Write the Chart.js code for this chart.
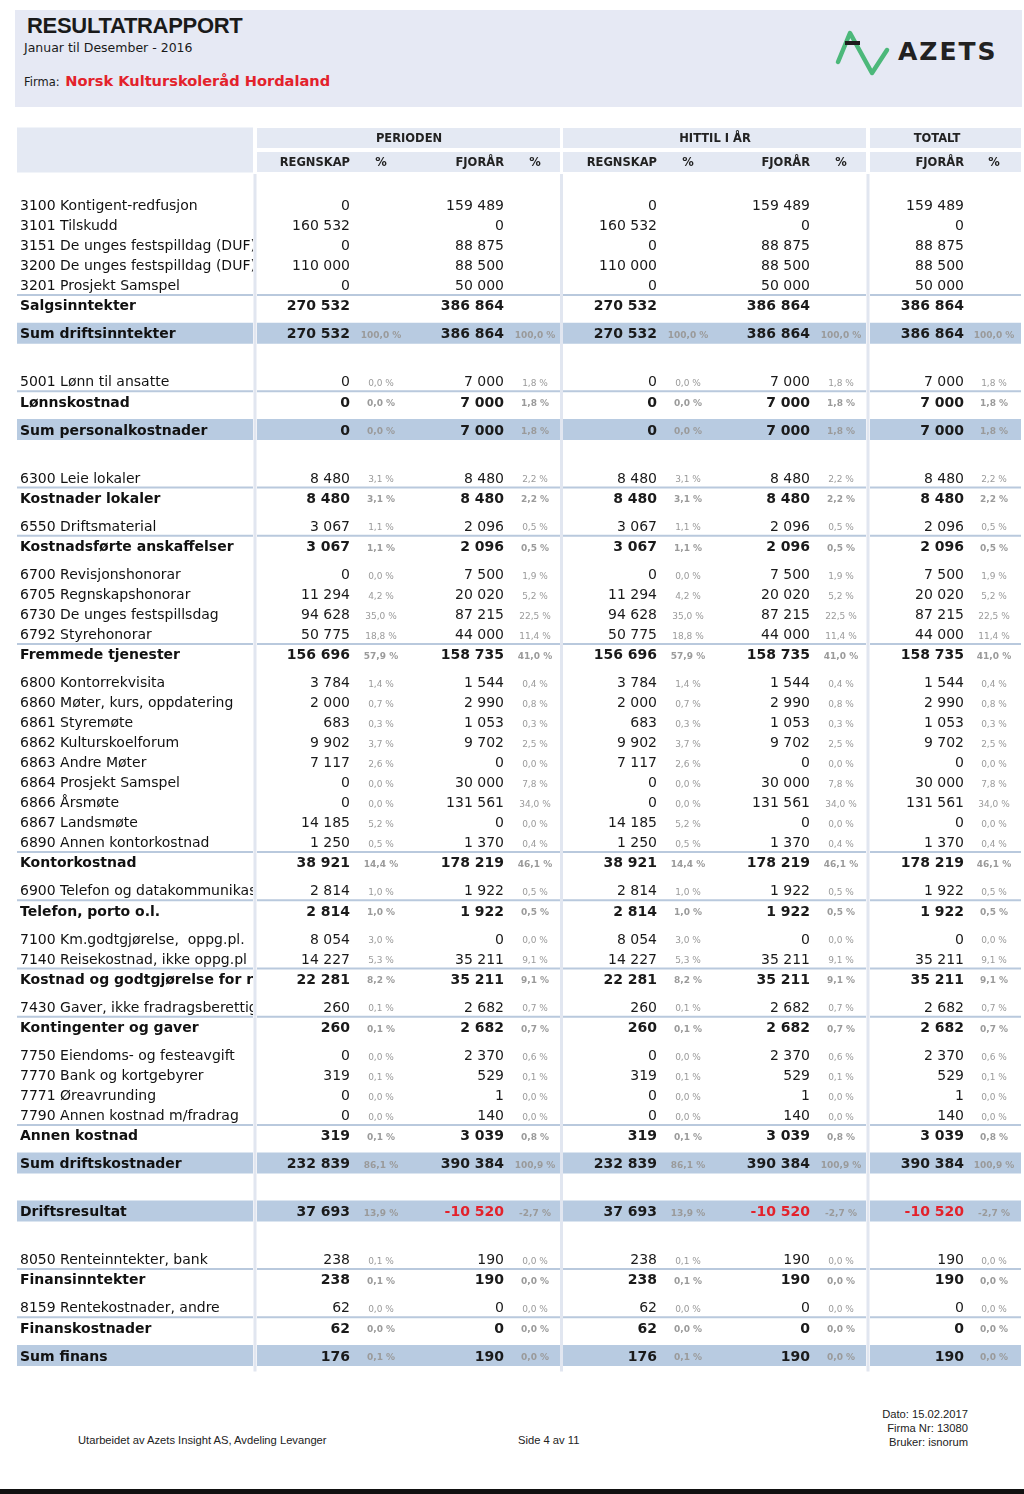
<!DOCTYPE html>
<html lang="no">
<head>
<meta charset="UTF-8">
<title>Resultatrapport</title>
<script src="https://cdn.jsdelivr.net/npm/chart.js"></script>
<style>
    body {
        margin: 0;
        width: 1024px;
        height: 1494px;
        position: relative;
        overflow: hidden;
        background: #fff;
        font-family: 'DejaVu Sans', Verdana, sans-serif;
        color: #1a1a1a;
    }
    .top {
        position: absolute;
        left: 15px; top: 10px;
        width: 1007px; height: 97px;
        background: #e6e9f4;
    }
    .top h1 {
        position: absolute;
        left: 12px; top: 4px;
        margin: 0;
        font: bold 22px 'Liberation Sans', Arial, sans-serif;
        letter-spacing: -0.3px;
        line-height: 24px;
    }
    .period {
        position: absolute;
        left: 9px; top: 31px;
        font-size: 12.5px; line-height: 14px;
    }
    .firma {
        position: absolute;
        left: 9px; top: 62px;
        font-size: 11.5px; line-height: 18px;
    }
    .firma b {
        color: #e3222b;
        font-size: 14.6px;
        margin-left: 2px;
    }
    .logo { position: absolute; left: 800px; top: 5px; }
    .logo span {
        position: absolute;
        left: 83px; top: 23px;
        font-weight: bold;
        font-size: 25px;
        line-height: 28px;
        letter-spacing: 2px;
        color: #222;
    }
    #tableWrap {
        position: absolute;
        left: 0; top: 120px;
        width: 1024px; height: 1265px;
    }
    .foot {
        position: absolute;
        font: 11.2px 'Liberation Sans', Arial, sans-serif;
        color: #222;
        line-height: 14px;
    }
    .bar { position: absolute; left: 0; top: 1489px; width: 1024px; height: 5px; background: #111; }
</style>
</head>
<body>

<div class="top">
    <h1>RESULTATRAPPORT</h1>
    <div class="period">Januar til Desember - 2016</div>
    <div class="firma">Firma: <b>Norsk Kulturskoleråd Hordaland</b></div>
    <div class="logo">
        <svg width="80" height="70" viewBox="0 0 80 70">
            <polyline points="23,47 35,18 57,58 72,35" fill="none" stroke="#4cb87a" stroke-width="4.5" stroke-linecap="round" stroke-linejoin="round"/>
            <rect x="30" y="26" width="15" height="4" fill="#1c1c1c"/>
        </svg>
        <span>AZETS</span>
    </div>
</div>

<div id="tableWrap"><canvas id="report" width="1024" height="1265"></canvas></div>

<div class="foot" style="left:78px; top:1433px;">Utarbeidet av Azets Insight AS, Avdeling Levanger</div>
<div class="foot" style="left:518px; top:1433px;">Side 4 av 11</div>
<div class="foot" style="right:56px; top:1407px; text-align:right;">Dato: 15.02.2017<br>Firma Nr: 13080<br>Bruker: isnorum</div>
<div class="bar"></div>

<script>
    // Rows of the report: d = account line, s = subtotal, sum = highlighted sum
    const rowLabels = [
        '3100 Kontigent-redfusjon', '3101 Tilskudd', '3151 De unges festspilldag (DUF)',
        '3200 De unges festspilldag (DUF)', '3201 Prosjekt Samspel', 'Salgsinntekter', 'Sum driftsinntekter',
        '5001 Lønn til ansatte', 'Lønnskostnad', 'Sum personalkostnader',
        '6300 Leie lokaler', 'Kostnader lokaler', '6550 Driftsmaterial', 'Kostnadsførte anskaffelser',
        '6700 Revisjonshonorar', '6705 Regnskapshonorar', '6730 De unges festspillsdag', '6792 Styrehonorar',
        'Fremmede tjenester',
        '6800 Kontorrekvisita', '6860 Møter, kurs, oppdatering', '6861 Styremøte', '6862 Kulturskoelforum',
        '6863 Andre Møter', '6864 Prosjekt Samspel', '6866 Årsmøte', '6867 Landsmøte',
        '6890 Annen kontorkostnad', 'Kontorkostnad',
        '6900 Telefon og datakommunikasjon', 'Telefon, porto o.l.',
        '7100 Km.godtgjørelse,  oppg.pl.', '7140 Reisekostnad, ikke oppg.pl', 'Kostnad og godtgjørelse for reiser',
        '7430 Gaver, ikke fradragsberettiget', 'Kontingenter og gaver',
        '7750 Eiendoms- og festeavgift', '7770 Bank og kortgebyrer', '7771 Øreavrunding',
        '7790 Annen kostnad m/fradrag', 'Annen kostnad',
        'Sum driftskostnader', 'Driftsresultat',
        '8050 Renteinntekter, bank', 'Finansinntekter', '8159 Rentekostnader, andre', 'Finanskostnader',
        'Sum finans'
    ];
    const rowKinds = [
        'd', 'd', 'd', 'd', 'd', 's', 'sum',
        'd', 's', 'sum',
        'd', 's', 'd', 's',
        'd', 'd', 'd', 'd', 's',
        'd', 'd', 'd', 'd', 'd', 'd', 'd', 'd', 'd', 's',
        'd', 's',
        'd', 'd', 's',
        'd', 's',
        'd', 'd', 'd', 'd', 's',
        'sum', 'sum',
        'd', 's', 'd', 's',
        'sum'
    ];

    // PERIODEN
    const perRegnskap = [0, 160532, 0, 110000, 0, 270532, 270532,
        0, 0, 0, 8480, 8480, 3067, 3067,
        0, 11294, 94628, 50775, 156696,
        3784, 2000, 683, 9902, 7117, 0, 0, 14185, 1250, 38921,
        2814, 2814, 8054, 14227, 22281, 260, 260,
        0, 319, 0, 0, 319, 232839, 37693,
        238, 238, 62, 62, 176];
    const perRegnskapPct = [null, null, null, null, null, null, 100.0,
        0.0, 0.0, 0.0, 3.1, 3.1, 1.1, 1.1,
        0.0, 4.2, 35.0, 18.8, 57.9,
        1.4, 0.7, 0.3, 3.7, 2.6, 0.0, 0.0, 5.2, 0.5, 14.4,
        1.0, 1.0, 3.0, 5.3, 8.2, 0.1, 0.1,
        0.0, 0.1, 0.0, 0.0, 0.1, 86.1, 13.9,
        0.1, 0.1, 0.0, 0.0, 0.1];
    const perFjoraar = [159489, 0, 88875, 88500, 50000, 386864, 386864,
        7000, 7000, 7000, 8480, 8480, 2096, 2096,
        7500, 20020, 87215, 44000, 158735,
        1544, 2990, 1053, 9702, 0, 30000, 131561, 0, 1370, 178219,
        1922, 1922, 0, 35211, 35211, 2682, 2682,
        2370, 529, 1, 140, 3039, 390384, -10520,
        190, 190, 0, 0, 190];
    const perFjoraarPct = [null, null, null, null, null, null, 100.0,
        1.8, 1.8, 1.8, 2.2, 2.2, 0.5, 0.5,
        1.9, 5.2, 22.5, 11.4, 41.0,
        0.4, 0.8, 0.3, 2.5, 0.0, 7.8, 34.0, 0.0, 0.4, 46.1,
        0.5, 0.5, 0.0, 9.1, 9.1, 0.7, 0.7,
        0.6, 0.1, 0.0, 0.0, 0.8, 100.9, -2.7,
        0.0, 0.0, 0.0, 0.0, 0.0];

    // HITTIL I ÅR
    const hitRegnskap = [0, 160532, 0, 110000, 0, 270532, 270532,
        0, 0, 0, 8480, 8480, 3067, 3067,
        0, 11294, 94628, 50775, 156696,
        3784, 2000, 683, 9902, 7117, 0, 0, 14185, 1250, 38921,
        2814, 2814, 8054, 14227, 22281, 260, 260,
        0, 319, 0, 0, 319, 232839, 37693,
        238, 238, 62, 62, 176];
    const hitRegnskapPct = [null, null, null, null, null, null, 100.0,
        0.0, 0.0, 0.0, 3.1, 3.1, 1.1, 1.1,
        0.0, 4.2, 35.0, 18.8, 57.9,
        1.4, 0.7, 0.3, 3.7, 2.6, 0.0, 0.0, 5.2, 0.5, 14.4,
        1.0, 1.0, 3.0, 5.3, 8.2, 0.1, 0.1,
        0.0, 0.1, 0.0, 0.0, 0.1, 86.1, 13.9,
        0.1, 0.1, 0.0, 0.0, 0.1];
    const hitFjoraar = [159489, 0, 88875, 88500, 50000, 386864, 386864,
        7000, 7000, 7000, 8480, 8480, 2096, 2096,
        7500, 20020, 87215, 44000, 158735,
        1544, 2990, 1053, 9702, 0, 30000, 131561, 0, 1370, 178219,
        1922, 1922, 0, 35211, 35211, 2682, 2682,
        2370, 529, 1, 140, 3039, 390384, -10520,
        190, 190, 0, 0, 190];
    const hitFjoraarPct = [null, null, null, null, null, null, 100.0,
        1.8, 1.8, 1.8, 2.2, 2.2, 0.5, 0.5,
        1.9, 5.2, 22.5, 11.4, 41.0,
        0.4, 0.8, 0.3, 2.5, 0.0, 7.8, 34.0, 0.0, 0.4, 46.1,
        0.5, 0.5, 0.0, 9.1, 9.1, 0.7, 0.7,
        0.6, 0.1, 0.0, 0.0, 0.8, 100.9, -2.7,
        0.0, 0.0, 0.0, 0.0, 0.0];

    // TOTALT
    const totFjoraar = [159489, 0, 88875, 88500, 50000, 386864, 386864,
        7000, 7000, 7000, 8480, 8480, 2096, 2096,
        7500, 20020, 87215, 44000, 158735,
        1544, 2990, 1053, 9702, 0, 30000, 131561, 0, 1370, 178219,
        1922, 1922, 0, 35211, 35211, 2682, 2682,
        2370, 529, 1, 140, 3039, 390384, -10520,
        190, 190, 0, 0, 190];
    const totFjoraarPct = [null, null, null, null, null, null, 100.0,
        1.8, 1.8, 1.8, 2.2, 2.2, 0.5, 0.5,
        1.9, 5.2, 22.5, 11.4, 41.0,
        0.4, 0.8, 0.3, 2.5, 0.0, 7.8, 34.0, 0.0, 0.4, 46.1,
        0.5, 0.5, 0.0, 9.1, 9.1, 0.7, 0.7,
        0.6, 0.1, 0.0, 0.0, 0.8, 100.9, -2.7,
        0.0, 0.0, 0.0, 0.0, 0.0];

    const groupHeaders = ['PERIODEN', 'HITTIL I ÅR', 'TOTALT'];
    const columnHeaders = ['REGNSKAP', 'FJORÅR', 'REGNSKAP', 'FJORÅR', 'FJORÅR'];

    // ---- layout (page pixels, x scale runs 0..1024, y scale follows the page) ----
    const bands = [[17, 253], [257, 560], [563, 866], [870, 1021]];
    const separators = [255, 561.5, 868];
    const groupCenters = [409, 715, 937];
    const headRow1 = 138, headRow2 = 162, firstRow = 205;
    const textNudge = 1.5; // canvas 'middle' sits a bit high for DejaVu
    const columns = [
        { values: perRegnskap, pct: perRegnskapPct, right: 350, pctCenter: 381 },
        { values: perFjoraar, pct: perFjoraarPct, right: 504, pctCenter: 535 },
        { values: hitRegnskap, pct: hitRegnskapPct, right: 657, pctCenter: 688 },
        { values: hitFjoraar, pct: hitFjoraarPct, right: 810, pctCenter: 841 },
        { values: totFjoraar, pct: totFjoraarPct, right: 964, pctCenter: 994 }
    ];

    function gapBefore(prev, kind) {
        if (prev === 'sum') return 48;
        if (kind === 's') return 20.2;
        if (prev === 's') return 28;
        return 20;
    }
    const rowY = [];
    rowKinds.forEach((k, i) => {
        rowY.push(i === 0 ? firstRow : rowY[i - 1] + gapBefore(rowKinds[i - 1], k));
    });

    function fmt(n) {
        const s = Math.abs(n).toString().replace(/\B(?=(\d{3})+(?!\d))/g, ' ');
        return (n < 0 ? '-' : '') + s;
    }
    function fmtPct(p) {
        return p.toFixed(1).replace('.', ',') + ' %';
    }

    // band bars
    const headerBars = [];
    [headRow1, headRow2].forEach(y => bands.slice(1).forEach(b => headerBars.push({ x: b, y: y })));
    const sumBars = [];
    rowKinds.forEach((k, i) => {
        if (k === 'sum') bands.forEach(b => sumBars.push({ x: b, y: rowY[i] }));
    });

    const FONT = '"DejaVu Sans", Verdana, sans-serif';

    const tablePlugin = {
        id: 'reportTable',
        beforeDatasetsDraw(chart) {
            const ctx = chart.ctx, xs = chart.scales.x, ys = chart.scales.y;
            ctx.save();
            ctx.strokeStyle = '#e1e6f0';
            ctx.lineWidth = 3;
            separators.forEach(s => {
                ctx.beginPath();
                ctx.moveTo(xs.getPixelForValue(s), ys.getPixelForValue(headRow2 + 12));
                ctx.lineTo(xs.getPixelForValue(s), ys.getPixelForValue(rowY[rowY.length - 1] + 16));
                ctx.stroke();
            });
            ctx.restore();
        },
        afterDatasetsDraw(chart) {
            const ctx = chart.ctx, xs = chart.scales.x, ys = chart.scales.y;
            ctx.save();
            ctx.textBaseline = 'middle';

            // header texts
            ctx.fillStyle = '#222';
            ctx.font = 'bold 11.5px ' + FONT;
            ctx.textAlign = 'center';
            groupHeaders.forEach((h, i) => ctx.fillText(h, xs.getPixelForValue(groupCenters[i]), ys.getPixelForValue(headRow1 + textNudge)));
            columns.forEach((c, i) => {
                ctx.textAlign = 'right';
                ctx.fillText(columnHeaders[i], xs.getPixelForValue(c.right), ys.getPixelForValue(headRow2 + textNudge));
                ctx.textAlign = 'center';
                ctx.fillText('%', xs.getPixelForValue(c.pctCenter), ys.getPixelForValue(headRow2 + textNudge));
            });

            // rules above subtotals
            ctx.strokeStyle = '#b9c9dd';
            ctx.lineWidth = 2;
            rowKinds.forEach((k, i) => {
                if (k !== 's') return;
                const y = ys.getPixelForValue((rowY[i] + rowY[i - 1]) / 2);
                bands.forEach(b => {
                    ctx.beginPath();
                    ctx.moveTo(xs.getPixelForValue(b[0]), y);
                    ctx.lineTo(xs.getPixelForValue(b[1]), y);
                    ctx.stroke();
                });
            });

            // row texts
            rowLabels.forEach((label, i) => {
                const y = ys.getPixelForValue(rowY[i] + textNudge);
                const bold = rowKinds[i] !== 'd';
                ctx.save();
                ctx.beginPath();
                ctx.rect(xs.getPixelForValue(bands[0][0]), y - 12, xs.getPixelForValue(bands[0][1]) - xs.getPixelForValue(bands[0][0]), 24);
                ctx.clip();
                ctx.fillStyle = '#111';
                ctx.textAlign = 'left';
                ctx.font = (bold ? 'bold ' : '') + '14px ' + FONT;
                ctx.fillText(label, xs.getPixelForValue(20), y);
                ctx.restore();

                columns.forEach(c => {
                    const v = c.values[i];
                    if (v !== null) {
                        ctx.font = (bold ? 'bold ' : '') + '14px ' + FONT;
                        ctx.fillStyle = v < 0 ? '#e3222b' : '#1a1a1a';
                        ctx.textAlign = 'right';
                        ctx.fillText(fmt(v), xs.getPixelForValue(c.right), y);
                    }
                    const p = c.pct[i];
                    if (p !== null) {
                        ctx.font = (bold ? 'bold ' : '') + '9px ' + FONT;
                        ctx.fillStyle = '#9a9a9a';
                        ctx.textAlign = 'center';
                        ctx.fillText(fmtPct(p), xs.getPixelForValue(c.pctCenter), y + 1);
                    }
                });
            });
            ctx.restore();
        }
    };

    new Chart(document.getElementById('report'), {
        type: 'bar',
        data: {
            datasets: [
                { data: headerBars, backgroundColor: '#e4e9f3', barThickness: 20 },
                { data: [{ x: bands[0], y: (headRow1 + headRow2) / 2 }], backgroundColor: '#e4e9f3', barThickness: 45 },
                { data: sumBars, backgroundColor: '#b8cbe1', barThickness: 21 }
            ]
        },
        options: {
            indexAxis: 'y',
            responsive: false,
            animation: false,
            events: [],
            layout: { padding: 0 },
            plugins: { legend: { display: false }, tooltip: { enabled: false } },
            datasets: { bar: { borderWidth: 0, inflateAmount: 0 } },
            scales: {
                x: { type: 'linear', min: 0, max: 1024, display: false, stacked: false },
                y: { type: 'linear', min: 120, max: 1385, reverse: true, offset: false, display: false, stacked: true }
            }
        },
        plugins: [tablePlugin]
    });
</script>
</body>
</html>
